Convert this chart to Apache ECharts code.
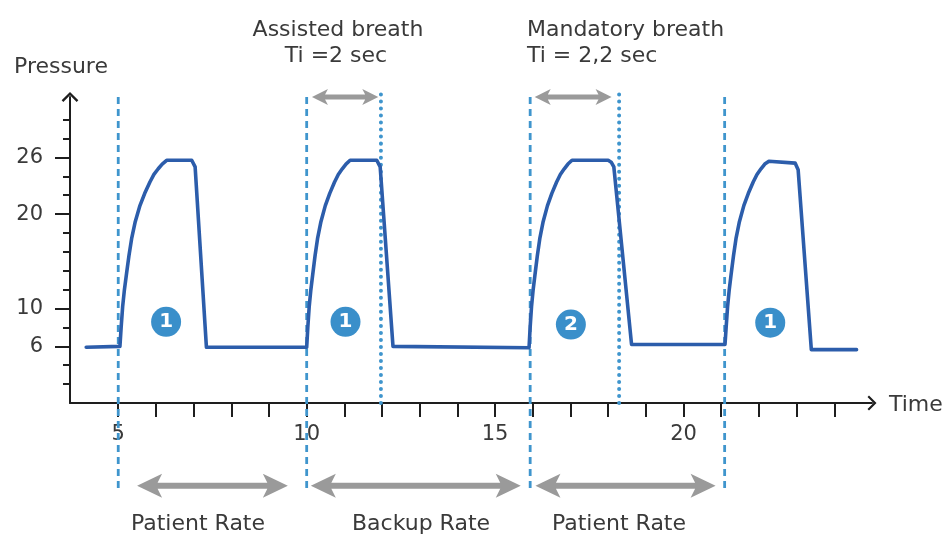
<!DOCTYPE html>
<html>
<head>
<meta charset="utf-8">
<script src="https://cdn.jsdelivr.net/npm/echarts@6/dist/echarts.min.js"></script>
<style>
  html, body { margin: 0; padding: 0; background: #ffffff; }
  #chart { width: 945px; height: 536px; }
</style>
</head>
<body>
<div id="chart"></div>
<script>
// Airway pressure waveform: [time (s), pressure]
const pressureCurve = [
  [4.15, 5.9], [5.045, 6.0],
  [5.077, 8.0], [5.117, 10.2], [5.164, 12.0], [5.223, 13.8], [5.284, 15.6], [5.355, 17.4], [5.451, 19.2],
  [5.576, 20.9], [5.703, 22.2], [5.841, 23.4], [5.947, 24.2], [6.061, 24.8], [6.167, 25.3], [6.284, 25.7],
  [6.95, 25.7], [7.0, 25.5], [7.04, 25.0], [7.34, 5.9],
  [10.0, 5.9],
  [10.03, 8.0], [10.067, 10.2], [10.111, 12.0], [10.166, 13.8], [10.222, 15.6], [10.288, 17.4], [10.378, 19.2],
  [10.494, 20.9], [10.612, 22.2], [10.74, 23.4], [10.839, 24.2], [10.945, 24.8], [11.043, 25.3], [11.152, 25.7],
  [11.86, 25.7], [11.91, 25.5], [11.95, 25.0], [12.29, 6.0],
  [15.9, 5.85],
  [15.929, 8.0], [15.966, 10.2], [16.009, 12.0], [16.064, 13.8], [16.12, 15.6], [16.185, 17.4], [16.274, 19.2],
  [16.389, 20.9], [16.505, 22.2], [16.632, 23.4], [16.73, 24.2], [16.835, 24.8], [16.932, 25.3], [17.04, 25.7],
  [18.0, 25.7], [18.08, 25.5], [18.15, 25.0], [18.62, 6.2],
  [21.1, 6.2],
  [21.13, 8.0], [21.168, 10.2], [21.212, 12.0], [21.267, 13.8], [21.325, 15.6], [21.391, 17.4], [21.482, 19.2],
  [21.599, 20.9], [21.719, 22.2], [21.848, 23.4], [21.948, 24.2], [22.055, 24.8], [22.155, 25.3], [22.265, 25.6],
  [22.96, 25.4], [23.0, 25.2], [23.04, 24.7], [23.39, 5.65],
  [24.59, 5.65]
];

// Breath trigger instants (dashed) and end of inspiration (dotted)
const triggerTimes = [5.0, 10.0, 15.93, 21.09];
const inspEndTimes = [11.97, 18.29];

// Breath type markers: [time, pressure, type]
const breathMarkers = [
  [6.27, 8.6, '1'],
  [11.03, 8.6, '1'],
  [17.01, 8.3, '2'],
  [22.3, 8.5, '1']
];

// Inspiratory time spans (top) and rate intervals (bottom): [start, end]
const tiSpans = [[10.14, 11.9], [16.05, 18.09]];
const rateSpans = [[5.5, 9.5], [10.11, 15.68], [16.07, 20.85]];
const rateNames = ['Patient Rate', 'Backup Rate', 'Patient Rate'];

// Axis ticks and labels
const timeTicks = [5, 6, 7, 8, 9, 10, 11, 12, 13, 14, 15, 16, 17, 18, 19, 20, 21, 22, 23, 24];
const timeLabels = [5, 10, 15, 20];
const pressureTicks = [2, 4, 6, 8, 10, 12, 14, 16, 18, 20, 22, 24, 26, 28, 30];
const pressureLabels = [6, 10, 20, 26];

const FONT = '"DejaVu Sans", sans-serif';
const TEXT = '#3a3a3a';
const AXIS = '#1e1e1e';
const CHEVRON = 'path://M0,10 L10,0 L20,10 L18,12 L10,4 L2,12 Z';

const chart = echarts.init(document.getElementById('chart'), null, { renderer: 'canvas' });

function arrowPoints(x1, x2, y, shaft, headLen, headHalf) {
  const back = headLen * 0.82;
  return [
    [x1, y], [x1 + headLen, y - headHalf], [x1 + back, y - shaft / 2],
    [x2 - back, y - shaft / 2], [x2 - headLen, y - headHalf], [x2, y],
    [x2 - headLen, y + headHalf], [x2 - back, y + shaft / 2],
    [x1 + back, y + shaft / 2], [x1 + headLen, y + headHalf]
  ];
}

function verticalLineSeries(times, top, bottom, dash, width, cap) {
  return {
    type: 'custom',
    coordinateSystem: 'cartesian2d',
    clip: false,
    silent: true,
    z: 2,
    data: times.map(t => [t, bottom, top]),
    encode: { x: 0, y: [1, 2] },
    renderItem(params, api) {
      const p0 = api.coord([api.value(0), api.value(1)]);
      const p1 = api.coord([api.value(0), api.value(2)]);
      return {
        type: 'line',
        shape: { x1: p0[0], y1: p0[1], x2: p1[0], y2: p1[1] },
        style: { stroke: '#3f95cd', lineWidth: width, lineDash: dash, lineCap: cap }
      };
    }
  };
}

function spanArrowSeries(spans, level, shaft, headLen, headHalf) {
  return {
    type: 'custom',
    coordinateSystem: 'cartesian2d',
    clip: false,
    silent: true,
    z: 3,
    data: spans.map(s => [s[0], s[1], level]),
    encode: { x: [0, 1], y: 2 },
    renderItem(params, api) {
      const a = api.coord([api.value(0), api.value(2)]);
      const b = api.coord([api.value(1), api.value(2)]);
      return {
        type: 'polygon',
        shape: { points: arrowPoints(a[0], b[0], a[1], shaft, headLen, headHalf) },
        style: { fill: '#9a9a9a' }
      };
    }
  };
}

function caption(text, x, y, align) {
  return {
    type: 'text', x, y,
    style: { text, align: align || 'left', verticalAlign: 'middle', fontSize: 22, fontFamily: FONT, fill: TEXT }
  };
}

const option = {
  backgroundColor: '#ffffff',
  animation: false,
  grid: { left: 70, right: 73, top: 97, bottom: 133, containLabel: false },
  xAxis: {
    type: 'value',
    min: 3.72,
    max: 25,
    axisLine: {
      show: true,
      symbol: ['none', CHEVRON],
      symbolSize: [15, 10],
      lineStyle: { color: AXIS, width: 2 }
    },
    axisTick: { show: true, customValues: timeTicks, length: 14, lineStyle: { color: AXIS, width: 2 } },
    axisLabel: { customValues: timeLabels, margin: 21, fontSize: 21, fontFamily: FONT, color: TEXT },
    splitLine: { show: false }
  },
  yAxis: [
    {
      type: 'value',
      min: 0,
      max: 32.4,
      axisLine: {
        show: true,
        symbol: ['none', CHEVRON],
        symbolSize: [17, 10],
        lineStyle: { color: AXIS, width: 2 }
      },
      axisTick: { show: true, customValues: pressureTicks, length: 7, lineStyle: { color: AXIS, width: 2 } },
      axisLabel: { customValues: pressureLabels, margin: 27, fontSize: 21, fontFamily: FONT, color: TEXT },
      splitLine: { show: false }
    },
    {
      type: 'value',
      position: 'left',
      min: 0,
      max: 32.4,
      axisLine: { show: false },
      axisTick: { show: true, customValues: pressureLabels, length: 15, lineStyle: { color: AXIS, width: 2 } },
      axisLabel: { show: false },
      splitLine: { show: false }
    }
  ],
  graphic: [
    caption('Pressure', 14, 67),
    caption('Time', 889, 405),
    caption('Assisted breath', 338, 30, 'center'),
    caption('Ti =2 sec', 336, 56, 'center'),
    caption('Mandatory breath', 527, 30),
    caption('Ti = 2,2 sec', 527, 56),
    caption(rateNames[0], 198, 524, 'center'),
    caption(rateNames[1], 421, 524, 'center'),
    caption(rateNames[2], 619, 524, 'center')
  ],
  series: [
    verticalLineSeries(triggerTimes, 32.9, -9.0, [7, 5], 2.8, 'butt'),
    verticalLineSeries(inspEndTimes, 33.1, 0, [0.01, 7], 4, 'round'),
    {
      name: 'Pressure',
      type: 'line',
      data: pressureCurve,
      showSymbol: false,
      symbol: 'none',
      z: 4,
      lineStyle: { color: '#2c5dab', width: 3.6, join: 'round', cap: 'round' }
    },
    {
      type: 'scatter',
      data: breathMarkers,
      encode: { x: 0, y: 1 },
      symbolSize: 30,
      z: 5,
      itemStyle: { color: '#3a8fca', opacity: 1 },
      label: {
        show: true,
        position: 'inside',
        formatter: p => p.value[2],
        color: '#ffffff',
        fontSize: 20,
        fontWeight: 'bold',
        fontFamily: FONT
      }
    },
    spanArrowSeries(tiSpans, 32.4, 5, 16, 8),
    spanArrowSeries(rateSpans, -8.75, 6, 25, 12)
  ]
};

chart.setOption(option);
</script>
</body>
</html>
